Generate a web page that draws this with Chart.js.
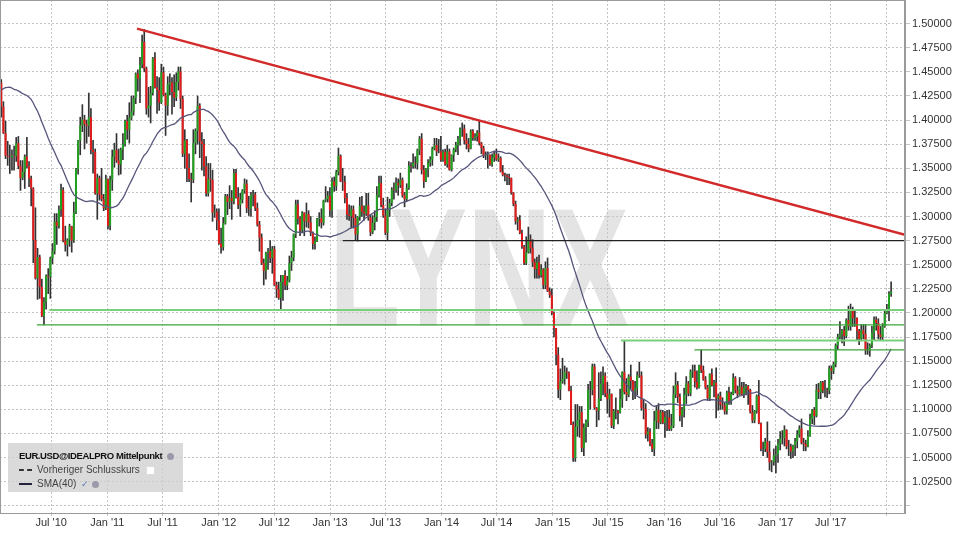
<!DOCTYPE html>
<html>
<head>
<meta charset="utf-8">
<script src="https://cdn.jsdelivr.net/npm/chart.js@4.4.1/dist/chart.umd.min.js"></script>
<style>
  html, body { margin: 0; padding: 0; background: #fff; }
  #wrap { position: relative; width: 960px; height: 540px; }
  #legend {
    position: absolute; left: 8px; top: 443px; width: 175px; height: 49px;
    background: rgba(205, 205, 205, 0.75); box-sizing: border-box; padding: 6px 6px 0 11px;
    font-family: "Liberation Sans", Arial, sans-serif; font-size: 10px; color: #444;
  }
  #legend .row { height: 14px; line-height: 14px; white-space: nowrap; }
  #legend .title { font-weight: bold; color: #111; font-size: 9.5px; letter-spacing: -0.4px; }
  .dash, .solid { display: inline-block; width: 13px; height: 0; vertical-align: middle; margin-right: 5px; }
  .dash { border-top: 2px dashed #333; }
  .solid { border-top: 2px solid #22223a; }
  .ico { display: inline-block; width: 7px; height: 7px; border-radius: 50%; background: #9a9aaa; vertical-align: middle; margin-left: 3px; }
  .sq { display: inline-block; width: 7px; height: 7px; background: #fff; border: 1px solid #ddd; vertical-align: middle; margin-left: 3px; }
  .chk { color: #5a78b0; font-size: 9px; margin-left: 2px; }
</style>
</head>
<body>
<div id="wrap">
  <canvas id="chart" width="960" height="540"></canvas>
  <div id="legend">
    <div class="row title">EUR.USD@IDEALPRO Mittelpunkt <span class="ico"></span></div>
    <div class="row"><span class="dash"></span>Vorheriger Schlusskurs <span class="sq"></span></div>
    <div class="row"><span class="solid"></span>SMA(40) <span class="chk">&#10003;</span><span class="ico"></span></div>
  </div>
</div>
<script>
// weekly EUR.USD, first bar = week of 18 Jan 2010
// closes of the 39 weeks before the window (only for the SMA(40))
let preCloses = [1.3260,1.3270,1.3480,1.3525,1.3990,1.4150,1.3960,1.3975,1.3930,1.4090,
  1.3960,1.3925,1.4120,1.4210,1.4255,1.4180,1.4180,1.4325,1.4320,1.4345,
  1.4570,1.4715,1.4685,1.4545,1.4720,1.4965,1.5005,1.4715,1.4875,1.4925,
  1.4880,1.4935,1.4850,1.4610,1.4345,1.4395,1.4325,1.4410,1.4385]

let closes = [
  //2010
  1.4140,1.3865,1.3630,1.3620,1.3615,1.3630,1.3625,1.3760,1.3525,1.3400,
  1.3465,1.3620,1.3520,1.3395,1.3290,1.2755,1.2360,1.2580,1.2270,1.1965,
  1.2115,1.2385,1.2375,1.2565,1.2640,1.2945,1.2900,1.3070,1.3275,1.2750,
  1.2705,1.2760,1.2900,1.2750,1.3040,1.3490,1.3790,1.3945,1.4005,1.3955,
  1.3940,1.4030,1.3690,1.3670,1.3240,1.3400,1.3225,1.3180,1.3085,1.3385,
  //2011
  1.2905,1.3380,1.3620,1.3690,1.3580,1.3540,1.3695,1.3750,1.3990,1.3900,
  1.4025,1.4090,1.4225,1.4480,1.4430,1.4575,1.4810,1.4535,1.4120,1.4150,
  1.4280,1.4640,1.4340,1.4310,1.4180,1.4495,1.4260,1.4150,1.4370,1.4390,
  1.4290,1.4235,1.4395,1.4505,1.4220,1.3650,1.3790,1.3500,1.3390,1.3380,
  1.3760,1.3890,1.4150,1.3780,1.3750,1.3520,1.3240,1.3390,1.3380,1.3040,
  1.3050,1.2960,
  //2012
  1.2720,1.2680,1.2930,1.3210,1.3150,1.3190,1.3160,1.3450,1.3200,1.3120,
  1.3175,1.3270,1.3340,1.3085,1.3080,1.3225,1.3230,1.3085,1.2915,1.2780,
  1.2515,1.2435,1.2625,1.2640,1.2570,1.2665,1.2290,1.2245,1.2155,1.2320,
  1.2390,1.2285,1.2335,1.2515,1.2575,1.2815,1.3125,1.2975,1.2855,1.3040,
  1.2950,1.3025,1.2940,1.2830,1.2715,1.2745,1.2975,1.2985,1.2935,1.3165,
  1.3180,1.3215,1.3065,
  //2013
  1.3365,1.3315,1.3460,1.3630,1.3365,1.3360,1.3190,1.3020,1.3005,1.3075,
  1.2985,1.2815,1.2995,1.3110,1.3050,1.3030,1.3115,1.2990,1.2835,1.2935,
  1.2995,1.3220,1.3345,1.3120,1.3010,1.2830,1.3065,1.3140,1.3280,1.3275,
  1.3345,1.3325,1.3380,1.3220,1.3180,1.3295,1.3525,1.3520,1.3555,1.3550,
  1.3685,1.3805,1.3485,1.3365,1.3495,1.3555,1.3590,1.3705,1.3740,1.3675,
  1.3675,1.3590,
  //2014
  1.3670,1.3540,1.3675,1.3485,1.3635,1.3695,1.3740,1.3805,1.3910,1.3910,
  1.3790,1.3750,1.3705,1.3885,1.3815,1.3830,1.3870,1.3760,1.3710,1.3630,
  1.3635,1.3640,1.3540,1.3610,1.3645,1.3590,1.3605,1.3465,1.3430,1.3425,
  1.3410,1.3400,1.3245,1.3130,1.2950,1.2965,1.2830,1.2685,1.2515,1.2630,
  1.2760,1.2670,1.2525,1.2455,1.2525,1.2390,1.2450,1.2290,1.2465,1.2225,
  1.2185,1.2000,
  //2015
  1.1840,1.1565,1.1205,1.1290,1.1315,1.1390,1.1380,1.1195,1.0845,1.0495,
  1.0820,1.0890,1.0970,1.0600,1.0810,1.0870,1.1200,1.1200,1.1445,1.1015,
  1.0985,1.1110,1.1265,1.1350,1.1165,1.1105,1.1160,1.0830,1.0985,1.0985,
  1.0965,1.1105,1.1385,1.1180,1.1150,1.1340,1.1295,1.1195,1.1215,1.1355,
  1.1350,1.1015,1.1005,1.0740,1.0770,1.0645,1.0590,1.0880,1.0990,1.0865,
  1.0970,1.0860,
  //2016
  1.0920,1.0915,1.0795,1.0830,1.1155,1.1255,1.1130,1.0935,1.1000,1.1155,
  1.1270,1.1165,1.1390,1.1400,1.1285,1.1225,1.1455,1.1405,1.1310,1.1225,
  1.1115,1.1365,1.1250,1.1275,1.1115,1.1140,1.1050,1.1040,1.0980,1.1175,
  1.1085,1.1160,1.1325,1.1195,1.1155,1.1235,1.1155,1.1225,1.1240,1.1200,
  1.0970,1.0885,1.0985,1.1140,1.0855,1.0590,1.0590,1.0665,1.0560,1.0450,
  1.0455,1.0520,
  //2017
  1.0530,1.0645,1.0700,1.0700,1.0785,1.0615,1.0615,1.0565,1.0625,1.0670,
  1.0740,1.0800,1.0650,1.0640,1.0615,1.0725,1.0900,1.0995,1.0930,1.1205,
  1.1180,1.1280,1.1195,1.1200,1.1195,1.1425,1.1400,1.1470,1.1665,1.1750,
  1.1775,1.1820,1.1760,1.1925,1.1860,1.2035,1.1945,1.1950,1.1815,1.1730,
  1.1820,1.1780,1.1610,1.1610,1.1665,1.1795,1.1930,1.1895,1.1775,1.1750,
  1.1860,1.2000,
  //2018
  1.2030,1.2200,1.2220]

let highs = [
  1.4420,1.4190,1.3990,1.3780,1.3740,1.3690,1.3730,1.3820,1.3830,1.3580,
  1.3580,1.3640,1.3820,1.3570,1.3420,1.3300,1.3090,1.2670,1.2600,1.2350,
  1.2160,1.2395,1.2460,1.2580,1.2720,1.3030,1.3030,1.3110,1.3335,1.3300,
  1.2900,1.2770,1.2920,1.2900,1.3150,1.3500,1.3790,1.4030,1.4160,1.4050,
  1.4000,1.4280,1.4120,1.3790,1.3700,1.3440,1.3420,1.3500,1.3230,1.3430,

  1.3390,1.3420,1.3690,1.3760,1.3860,1.3700,1.3710,1.3860,1.4000,1.4050,
  1.4180,1.4250,1.4250,1.4490,1.4520,1.4650,1.4880,1.4940,1.4550,1.4340,
  1.4350,1.4650,1.4700,1.4450,1.4440,1.4580,1.4550,1.4280,1.4450,1.4480,
  1.4440,1.4470,1.4490,1.4550,1.4550,1.4250,1.3900,1.3800,1.3650,1.3450,
  1.3900,1.3910,1.4250,1.4170,1.3870,1.3800,1.3620,1.3550,1.3550,1.3480,
  1.3120,1.3080,

  1.3080,1.2880,1.2990,1.3230,1.3230,1.3320,1.3270,1.3490,1.3490,1.3300,
  1.3240,1.3280,1.3390,1.3380,1.3210,1.3250,1.3270,1.3250,1.3140,1.2950,
  1.2820,1.2560,1.2630,1.2670,1.2750,1.2690,1.2690,1.2320,1.2320,1.2390,
  1.2390,1.2440,1.2380,1.2590,1.2640,1.2820,1.3170,1.3170,1.3000,1.3050,
  1.3040,1.3140,1.3060,1.3000,1.2840,1.2790,1.2980,1.3040,1.3080,1.3170,
  1.3310,1.3260,1.3300,

  1.3400,1.3410,1.3480,1.3710,1.3640,1.3500,1.3420,1.3240,1.3120,1.3110,
  1.3110,1.3020,1.3000,1.3200,1.3210,1.3110,1.3240,1.3240,1.3020,1.3010,
  1.3060,1.3310,1.3420,1.3420,1.3190,1.3080,1.3200,1.3180,1.3300,1.3350,
  1.3400,1.3390,1.3450,1.3400,1.3250,1.3340,1.3570,1.3560,1.3650,1.3620,
  1.3700,1.3830,1.3860,1.3530,1.3500,1.3590,1.3620,1.3720,1.3810,1.3810,
  1.3800,1.3830,

  1.3690,1.3700,1.3740,1.3700,1.3640,1.3710,1.3770,1.3830,1.3920,1.3970,
  1.3950,1.3860,1.3810,1.3900,1.3900,1.3860,1.3890,1.3993,1.3770,1.3730,
  1.3670,1.3670,1.3640,1.3650,1.3680,1.3700,1.3650,1.3620,1.3530,1.3450,
  1.3440,1.3440,1.3400,1.3250,1.3160,1.2990,1.3010,1.2860,1.2700,1.2790,
  1.2890,1.2810,1.2760,1.2560,1.2580,1.2600,1.2500,1.2460,1.2530,1.2570,
  1.2260,1.2250,

  1.2010,1.1840,1.1640,1.1420,1.1530,1.1450,1.1430,1.1390,1.1240,1.0870,
  1.1050,1.1050,1.1030,1.1030,1.0850,1.0890,1.1260,1.1290,1.1470,1.1470,
  1.1020,1.1380,1.1390,1.1440,1.1380,1.1280,1.1210,1.1160,1.1000,1.1120,
  1.0990,1.1210,1.1390,1.1714,1.1320,1.1360,1.1460,1.1300,1.1290,1.1390,
  1.1490,1.1390,1.1100,1.1060,1.0810,1.0800,1.0690,1.0980,1.1040,1.1060,
  1.0990,1.0990,

  1.0980,1.0990,1.0990,1.0950,1.1240,1.1380,1.1290,1.1160,1.1020,1.1220,
  1.1340,1.1290,1.1410,1.1460,1.1460,1.1400,1.1460,1.1616,1.1450,1.1340,
  1.1250,1.1370,1.1420,1.1300,1.1430,1.1160,1.1180,1.1120,1.1070,1.1190,
  1.1230,1.1180,1.1370,1.1340,1.1240,1.1330,1.1280,1.1280,1.1260,1.1250,
  1.1210,1.1040,1.0990,1.1150,1.1300,1.0860,1.0660,1.0700,1.0870,1.0670,
  1.0470,1.0590,

  1.0620,1.0690,1.0770,1.0780,1.0830,1.0790,1.0680,1.0640,1.0630,1.0700,
  1.0780,1.0830,1.0900,1.0700,1.0680,1.0780,1.0950,1.1000,1.1020,1.1260,
  1.1270,1.1290,1.1290,1.1300,1.1220,1.1450,1.1450,1.1490,1.1680,1.1780,
  1.1910,1.1830,1.1860,1.1940,1.2070,1.2092,1.2060,1.2030,1.1950,1.1830,
  1.1880,1.1880,1.1880,1.1690,1.1680,1.1860,1.1960,1.1960,1.1940,1.1860,
  1.1890,1.2020,

  1.2090,1.2220,1.2323]

let lows = [
  1.4030,1.3860,1.3600,1.3530,1.3445,1.3480,1.3480,1.3570,1.3495,1.3270,
  1.3380,1.3290,1.3500,1.3310,1.3110,1.2520,1.2350,1.2140,1.2150,1.1960,
  1.1876,1.2040,1.2200,1.2150,1.2510,1.2610,1.2710,1.2880,1.3000,1.2735,
  1.2640,1.2590,1.2690,1.2630,1.2730,1.3030,1.3440,1.3640,1.3880,1.3700,
  1.3760,1.3830,1.3650,1.3450,1.3230,1.2970,1.3170,1.3160,1.3060,1.3070,

  1.2870,1.2860,1.3270,1.3510,1.3560,1.3430,1.3440,1.3590,1.3730,1.3800,
  1.3760,1.4000,1.4050,1.4170,1.4300,1.4180,1.4540,1.4500,1.4060,1.4030,
  1.3970,1.4260,1.4330,1.4070,1.4100,1.4170,1.4250,1.3840,1.4050,1.4260,
  1.4060,1.4140,1.4200,1.4310,1.4120,1.3620,1.3500,1.3360,1.3360,1.3150,
  1.3350,1.3650,1.3750,1.3610,1.3480,1.3420,1.3210,1.3210,1.3260,1.2950,
  1.2990,1.2860,

  1.2710,1.2620,1.2650,1.2920,1.3020,1.3080,1.2970,1.3130,1.3190,1.3080,
  1.3000,1.3140,1.3240,1.3040,1.3010,1.3000,1.3110,1.3060,1.2900,1.2640,
  1.2500,1.2290,1.2350,1.2450,1.2520,1.2410,1.2280,1.2160,1.2140,1.2042,
  1.2130,1.2240,1.2240,1.2320,1.2440,1.2540,1.2780,1.2920,1.2800,1.2830,
  1.2800,1.2890,1.2880,1.2800,1.2660,1.2660,1.2740,1.2900,1.2880,1.2910,
  1.3150,1.3150,1.3000,

  1.2990,1.3260,1.3270,1.3430,1.3360,1.3270,1.3140,1.2970,1.2960,1.2880,
  1.2880,1.2750,1.2745,1.2960,1.3000,1.2960,1.3010,1.2960,1.2800,1.2820,
  1.2860,1.2950,1.3200,1.3100,1.2990,1.2810,1.2755,1.3000,1.3110,1.3180,
  1.3250,1.3220,1.3300,1.3200,1.3100,1.3160,1.3280,1.3460,1.3500,1.3500,
  1.3490,1.3640,1.3440,1.3300,1.3360,1.3410,1.3520,1.3530,1.3690,1.3630,
  1.3660,1.3570,

  1.3570,1.3530,1.3510,1.3480,1.3470,1.3570,1.3670,1.3640,1.3740,1.3830,
  1.3750,1.3700,1.3670,1.3700,1.3790,1.3790,1.3780,1.3740,1.3650,1.3610,
  1.3590,1.3500,1.3530,1.3520,1.3570,1.3580,1.3570,1.3460,1.3420,1.3370,
  1.3330,1.3330,1.3230,1.3110,1.2920,1.2860,1.2820,1.2670,1.2500,1.2500,
  1.2620,1.2620,1.2480,1.2360,1.2360,1.2360,1.2370,1.2250,1.2250,1.2220,
  1.2160,1.1980,

  1.1750,1.1460,1.1120,1.1100,1.1270,1.1260,1.1320,1.1190,1.0840,1.0460,
  1.0460,1.0720,1.0710,1.0560,1.0520,1.0660,1.0820,1.1000,1.1150,1.1000,
  1.0820,1.0890,1.1090,1.1150,1.1130,1.0960,1.0920,1.0810,1.0800,1.0900,
  1.0850,1.0960,1.1020,1.1160,1.1090,1.1130,1.1210,1.1100,1.1110,1.1150,
  1.1330,1.0990,1.0900,1.0700,1.0670,1.0620,1.0560,1.0520,1.0800,1.0800,
  1.0850,1.0850,

  1.0710,1.0780,1.0780,1.0780,1.0810,1.1120,1.1070,1.0880,1.0820,1.0920,
  1.1060,1.1140,1.1140,1.1330,1.1230,1.1210,1.1220,1.1380,1.1300,1.1210,
  1.1100,1.1090,1.1240,1.1130,1.0910,1.0990,1.1000,1.1000,1.0950,1.0950,
  1.1050,1.1050,1.1150,1.1170,1.1120,1.1150,1.1150,1.1120,1.1150,1.1050,
  1.0960,1.0860,1.0860,1.0960,1.0850,1.0570,1.0520,1.0560,1.0500,1.0370,
  1.0352,1.0420,

  1.0340,1.0450,1.0580,1.0640,1.0620,1.0590,1.0520,1.0490,1.0500,1.0520,
  1.0600,1.0710,1.0640,1.0570,1.0570,1.0610,1.0720,1.0850,1.0840,1.0920,
  1.1110,1.1110,1.1170,1.1130,1.1120,1.1160,1.1310,1.1370,1.1440,1.1620,
  1.1730,1.1690,1.1660,1.1740,1.1820,1.1820,1.1860,1.1860,1.1720,1.1670,
  1.1710,1.1730,1.1570,1.1570,1.1550,1.1640,1.1720,1.1820,1.1730,1.1720,
  1.1720,1.1850,

  1.1990,1.1920,1.2170]

// drawn lines: start week index and price level
let trendX = [63.6, 423.5]
let trendY = [1.4948, 1.2811]
let hLevels = [1.2750, 1.2030, 1.1876, 1.1714, 1.1616]
let hStarts = [160, 22.6, 16.7, 290.4, 324.8]
let hColors = ['#222222', '#7ccf7c', '#3aa53a', '#7ccf7c', '#3aa53a']

// axis ticks (week index of the 1st of the month)
let xTickPos = [23.4, 49.7, 75.6, 101.9, 127.9, 154.1, 180.0, 206.3, 232.1, 258.4, 284.3, 310.6, 336.6, 362.9, 388.7, 415.0]
let xTickLabels = ["Jul '10", "Jan '11", "Jul '11", "Jan '12", "Jul '12", "Jan '13", "Jul '13", "Jan '14",
  "Jul '14", "Jan '15", "Jul '15", "Jan '16", "Jul '16", "Jan '17", "Jul '17", ""]
let yTicks = [1.000, 1.025, 1.050, 1.075, 1.100, 1.125, 1.150, 1.175, 1.200, 1.225, 1.250,
  1.275, 1.300, 1.325, 1.350, 1.375, 1.400, 1.425, 1.450, 1.475, 1.500]

const X_MIN = -0.6, X_MAX = 423.5
const Y_MIN = 0.9925, Y_MAX = 1.5245
const GREEN = '#22a022', RED = '#e41b1b'

//Build candle pieces (forex weekly open = previous close)
let opens = closes.map((c, i) => i === 0 ? preCloses[preCloses.length - 1] : closes[i - 1])
let wicks = closes.map((c, i) => ({x: i, y: [lows[i], highs[i]]}))
let bodies = closes.map((c, i) => ({x: i, y: [opens[i], c]}))
let bodyColors = closes.map((c, i) => c >= opens[i] ? GREEN : RED)

//SMA(40) of the closes
let all = preCloses.concat(closes)
let sma = closes.map((c, i) => {
  let s = 0
  for (let k = i; k < i + 40; k++) s += all[k]
  return {x: i, y: s / 40}
})

let lineSets = hLevels.map((lv, i) => ({
  type: 'line',
  data: [{x: hStarts[i], y: lv}, {x: X_MAX, y: lv}],
  borderColor: hColors[i],
  borderWidth: (hColors[i] === '#7ccf7c') ? 2 : 1.2,
  pointRadius: 0,
  order: 1
}))

const watermark = {
  id: 'watermark',
  beforeDraw(chart) {
    const ctx = chart.ctx
    ctx.save()
    ctx.font = 'bold 168px "Liberation Sans", Arial, sans-serif'
    ctx.fillStyle = '#e4e4e4'
    const w = ctx.measureText('LYNX').width
    ctx.translate(479, 326)
    ctx.scale(300 / w, 1)
    ctx.textAlign = 'center'
    ctx.fillText('LYNX', 0, 0)
    ctx.restore()
  },
  afterDraw(chart) {
    const a = chart.chartArea, ctx = chart.ctx
    ctx.save()
    ctx.strokeStyle = '#9a9a9a'
    ctx.lineWidth = 1
    ctx.strokeRect(a.left + 0.5, a.top + 0.5, a.right - a.left - 1, a.bottom - a.top)
    ctx.restore()
  }
}

const font = {family: '"Liberation Sans", Arial, sans-serif', size: 11}

new Chart('chart', {
  type: 'bar',
  data: {
    datasets: [
      {type: 'line', data: trendX.map((x, i) => ({x: x, y: trendY[i]})), borderColor: '#d22a2a', borderWidth: 2.5, pointRadius: 0, order: 0},
      ...lineSets,
      {type: 'line', data: sma, borderColor: '#55557c', borderWidth: 1.3, pointRadius: 0, order: 1},
      {data: bodies, backgroundColor: bodyColors, grouped: false, barPercentage: 0.95, categoryPercentage: 1, order: 2},
      {data: wicks, backgroundColor: '#333333', grouped: false, barThickness: 1, order: 3}
    ]
  },
  options: {
    responsive: false,
    animation: false,
    layout: {padding: 0},
    plugins: {legend: {display: false}, tooltip: {enabled: false}},
    scales: {
      x: {
        type: 'linear', min: X_MIN, max: X_MAX, offset: false, bounds: 'data',
        afterBuildTicks: s => { s.ticks = xTickPos.map(v => ({value: v})) },
        afterFit: s => { s.height = 27; s.paddingLeft = 0; s.paddingRight = 0 },
        grid: {color: '#c4c4c4', offset: false, tickLength: 3},
        border: {color: '#9a9a9a', dash: [2, 2]},
        ticks: {autoSkip: false, maxRotation: 0, color: '#333', font: font, padding: 0,
          callback: (v, i) => xTickLabels[i]}
      },
      y: {
        position: 'right', min: Y_MIN, max: Y_MAX,
        afterBuildTicks: s => { s.ticks = yTicks.map(v => ({value: v})) },
        afterFit: s => { s.width = 55; s.paddingTop = 0; s.paddingBottom = 0 },
        grid: {color: '#c4c4c4', tickLength: 5},
        border: {color: '#9a9a9a', dash: [2, 2]},
        ticks: {color: '#333', font: font, padding: 2,
          callback: v => v > 1.01 ? v.toFixed(5) : ''}
      }
    }
  },
  plugins: [watermark]
})
</script>
</body>
</html>
